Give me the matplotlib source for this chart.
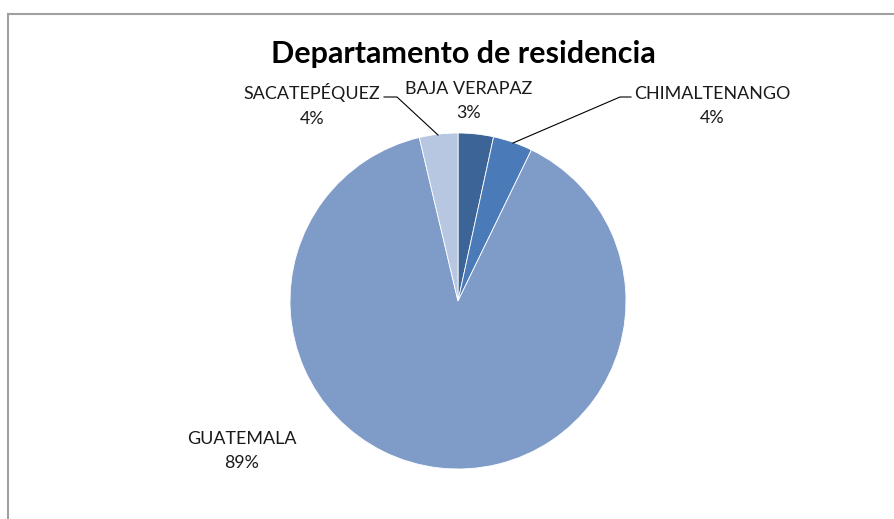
import matplotlib
matplotlib.use("Agg")
import matplotlib.pyplot as plt
from matplotlib.lines import Line2D

departments = ["BAJA VERAPAZ", "CHIMALTENANGO", "GUATEMALA", "SACATEPÉQUEZ"]
shares = [3.4, 3.8, 89.1, 3.7]
colors = ["#3C6496", "#4A7AB8", "#7F9CC9", "#B7C6E1"]

W, H = 895, 519
CX, CY, R = 458, 301, 168

plt.rcParams["font.family"] = ["Lato", "DejaVu Sans"]

fig = plt.figure(figsize=(W / 100, H / 100), dpi=100)
fig.patch.set_facecolor("white")

# chart-area border (top and left edges only are visible)
fig.add_artist(Line2D([8 / W, 8 / W], [0, 1 - 14 / H], color="#A0A0A0", lw=1.5))
fig.add_artist(Line2D([8 / W, 1], [1 - 14 / H, 1 - 14 / H], color="#A0A0A0", lw=1.5))

ax = fig.add_axes([(CX - R) / W, 1 - (CY + R) / H, 2 * R / W, 2 * R / H])
ax.pie(shares, colors=colors, startangle=90, counterclock=False,
       wedgeprops=dict(edgecolor="white", linewidth=0.6))
ax.set_xlim(-1, 1)
ax.set_ylim(-1, 1)
ax.set_aspect("auto")
ax.axis("off")


def to_data(px, py):
    return (px - CX) / R, (CY - py) / R


total = sum(shares)
labels = [f"{d}\n{round(v / total * 100)}%" for d, v in zip(departments, shares)]

# label centre (pixels) and optional leader line points (pixels)
label_pos = {
    "BAJA VERAPAZ": (469, 101, None),
    "CHIMALTENANGO": (712, 106, [(631, 97), (620, 97), (513, 143)]),
    "GUATEMALA": (242, 451, None),
    "SACATEPÉQUEZ": (312, 105, [(384, 97), (397, 97), (438, 135)]),
}

for dep, lab in zip(departments, labels):
    px, py, leader = label_pos[dep]
    x, y = to_data(px, py)
    ax.text(x, y, lab, ha="center", va="center", fontsize=12.9,
            linespacing=1.62, color="#1a1a1a", clip_on=False)
    if leader:
        pts = [to_data(a, b) for a, b in leader]
        ax.plot([p[0] for p in pts], [p[1] for p in pts], color="black",
                lw=0.8, clip_on=False)

fig.text(463 / W, 1 - 54 / H, "Departamento de residencia", ha="center",
         va="center", fontsize=22, fontweight="bold", color="black")

fig.savefig("out.png", dpi=100)
